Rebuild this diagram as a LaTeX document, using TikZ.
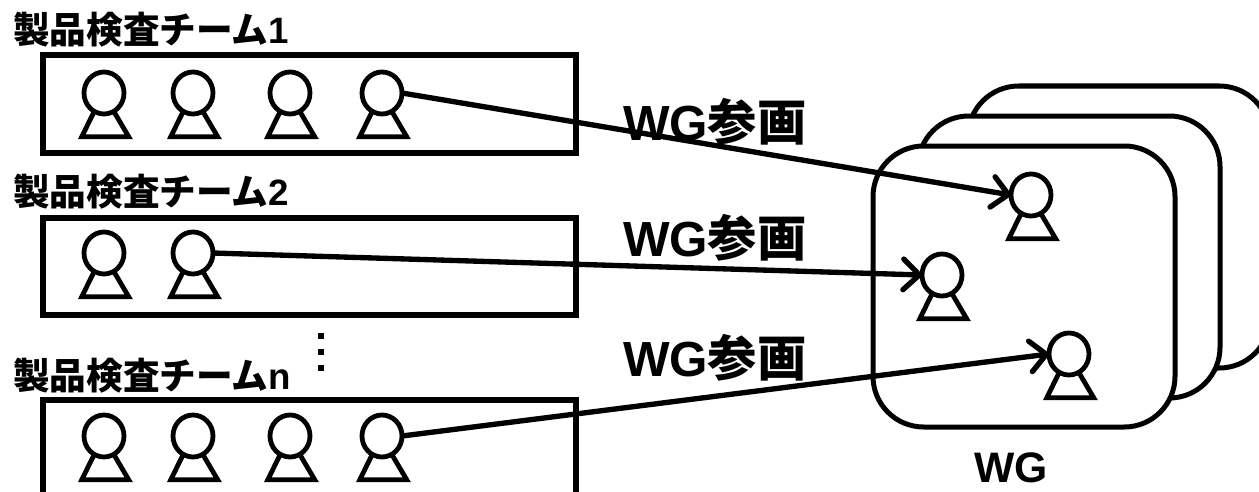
\documentclass[tikz,border=0pt]{standalone}
\usepackage{fontspec}
\usetikzlibrary{arrows.meta,shapes.geometric}
\setmainfont{Liberation Sans}[BoldFont={Liberation Sans Bold}]
\newfontfamily\cjk{Noto Sans CJK JP Bold}
\newcommand{\tmlabel}[1]{\fontsize{27.5}{30}\selectfont\bfseries{\cjk 製品検査チーム}#1}
\newcommand{\wglabel}{\fontsize{37}{42}\selectfont\bfseries WG{\cjk 参画}}
\newcommand{\personat}[3]{%
  \node[headnode] (#1) at (#2,#3) {};
  \draw[bodyline] (#1.-118) -- ++(-12.5,25.5) -- ++(47,0) -- (#1.-62);
}
\tikzset{
  teambox/.style={draw=black,line width=4.1pt,line join=miter},
  wgbox/.style={draw=black,fill=white,line width=3.75pt,rounded corners=38pt},
  headnode/.style={ellipse,draw=black,line width=3.6pt,minimum width=30pt,minimum height=31.5pt,inner sep=0pt,outer sep=0pt},
  bodyline/.style={draw=black,line width=3.6pt,line join=miter},
  txt/.style={inner sep=0pt,outer sep=0pt,anchor=base west,text=black},
  conn/.style={draw=black,line width=4pt,-{Straight Barb[length=12pt,width=23pt,round,line width=4pt]}},
  dotmark/.style={fill=black,draw=none,minimum size=4.6pt,inner sep=0pt,outer sep=0pt,rectangle}
}
\begin{document}
\begin{tikzpicture}[x=0.75pt,y=-0.75pt]
\useasboundingbox (0,0) rectangle (1259,492);
% team boxes
\draw[teambox] (43,55) rectangle (576,153);
\draw[teambox] (43,218) rectangle (576,315);
\draw[teambox] (43,400) rectangle (576,530);
% WG stack
\draw[wgbox] (968,86) rectangle (1270,368);
\draw[wgbox] (918,116) rectangle (1220,398);
\draw[wgbox] (873,146) rectangle (1175,427);
% team labels
\node[txt] (l1) at (13,44) {\tmlabel{1}};
\node[txt] (l2) at (13,205) {\tmlabel{2}};
\node[txt] (l3) at (13,389) {\tmlabel{n}};
% WG labels
\node[txt] (g1) at (623,140) {\wglabel};
\node[txt] (g2) at (623,256) {\wglabel};
\node[txt] (g3) at (623,376) {\wglabel};
\node[txt] (wg) at (974,482) {\fontsize{32}{35}\selectfont\bfseries WG};
% ellipsis
\node[dotmark] (d1) at (321,336) {};
\node[dotmark] (d2) at (321,352) {};
\node[dotmark] (d3) at (321,368) {};
% persons
\personat{a1}{104}{93}\personat{a2}{193}{93}\personat{a3}{290}{93}\personat{a4}{382}{93}
\personat{b1}{104}{253}\personat{b2}{193}{253}
\personat{c1}{104}{436}\personat{c2}{193}{436}\personat{c3}{290}{436}\personat{c4}{382}{436}
\personat{w1}{1031}{195}\personat{w2}{942}{275}\personat{w3}{1069}{354}
% connectors
\draw[conn] (a4.east) -- (w1.west);
\draw[conn] (b2.east) -- (w2.west);
\draw[conn] (c4.east) -- (w3.west);
\end{tikzpicture}
\end{document}
